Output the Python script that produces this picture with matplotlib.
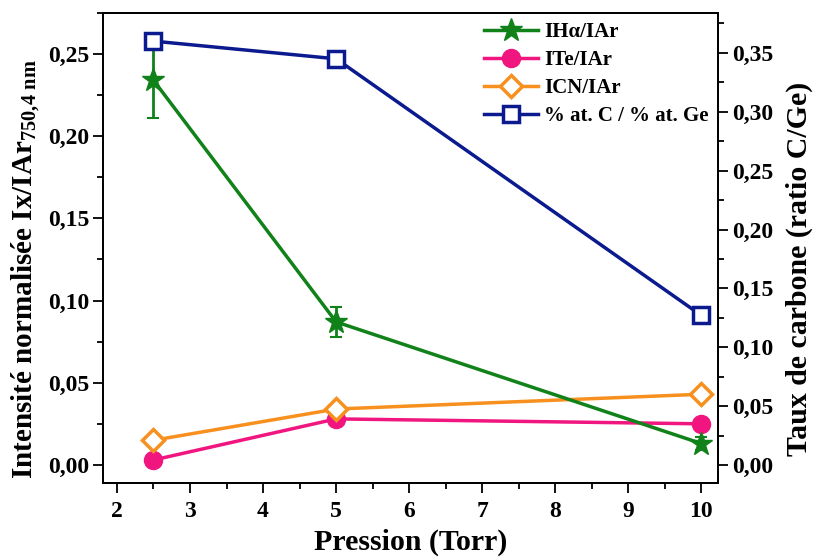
import numpy as np
import matplotlib.pyplot as plt
from matplotlib.ticker import FuncFormatter, MultipleLocator

plt.rcParams['font.family'] = ['Liberation Serif', 'DejaVu Serif']
plt.rcParams['font.weight'] = 'bold'
plt.rcParams['mathtext.fontset'] = 'custom'
plt.rcParams['mathtext.rm'] = 'Liberation Serif:bold'
plt.rcParams['mathtext.it'] = 'Liberation Serif:bold'

pression = [2.5, 5, 10]
i_halpha = [0.234, 0.087, 0.013]
i_halpha_err = [0.023, 0.009, 0.004]
i_te = [0.003, 0.028, 0.025]
i_cn = [0.015, 0.034, 0.043]
ratio_cge = [0.360, 0.345, 0.127]

c_green = '#11821a'
c_pink = '#f0157f'
c_orange = '#f7901e'
c_navy = '#0b1a8e'


def comma(v, pos):
    return ('%.2f' % v).replace('.', ',')


fig = plt.figure(figsize=(8.18, 5.6), dpi=100)
ax = fig.add_axes([0.126, 0.1375, 0.752, 0.8395])
ax2 = ax.twinx()

l1 = ax.errorbar(pression, i_halpha, yerr=i_halpha_err, color=c_green, lw=2.5,
                 marker='*', ms=17, capsize=4, elinewidth=2, capthick=1.5)
l2, = ax.plot(pression, i_te, color=c_pink, lw=2.5, marker='o', ms=13)
l3, = ax.plot(pression, i_cn, color=c_orange, lw=2.5, marker='D', ms=11,
              mfc='white', mew=2.5)
l4, = ax2.plot(pression, ratio_cge, color=c_navy, lw=2.5, marker='s', ms=11,
               mfc='white', mew=2.5)

ax.set_xlim(1.81, 10.23)
ax.set_ylim(-0.011, 0.275)
ax2.set_ylim(-0.0153, 0.384)

ax.xaxis.set_major_locator(MultipleLocator(1))
ax.xaxis.set_minor_locator(MultipleLocator(0.5))
ax.yaxis.set_major_locator(MultipleLocator(0.05))
ax.yaxis.set_minor_locator(MultipleLocator(0.025))
ax2.yaxis.set_major_locator(MultipleLocator(0.05))
ax2.yaxis.set_minor_locator(MultipleLocator(0.025))
ax.yaxis.set_major_formatter(FuncFormatter(comma))
ax2.yaxis.set_major_formatter(FuncFormatter(comma))

for a in (ax, ax2):
    a.tick_params(which='major', direction='out', length=7, width=1.3,
                  labelsize=17, pad=3)
    a.tick_params(which='minor', direction='out', length=4, width=1.3)
    for s in a.spines.values():
        s.set_linewidth(1.3)
ax.tick_params(axis='x', which='major', pad=6)

ax.set_xlabel('Pression (Torr)', fontsize=21.5, fontweight='bold', labelpad=5)
ax.set_ylabel(r'Intensité normalisée Ix/IAr$_{750{,}4\ nm}$', fontsize=21,
              fontweight='bold', labelpad=4)
ax2.set_ylabel('Taux de carbone (ratio C/Ge)', fontsize=21.5, fontweight='bold',
               labelpad=9)
ax.yaxis.label.set_y(0.455)
ax2.yaxis.label.set_y(0.455)

labels = ['IH\u03b1/IAr', 'ITe/IAr', 'ICN/IAr', '% at. C / % at. Ge']
leg = ax2.legend([l1[0], l2, l3, l4], labels, loc='upper right',
                 frameon=False, fontsize=15, handlelength=2.6,
                 borderaxespad=0.05, labelspacing=0.38, handletextpad=0.3)

fig.savefig('out.png', dpi=100)
